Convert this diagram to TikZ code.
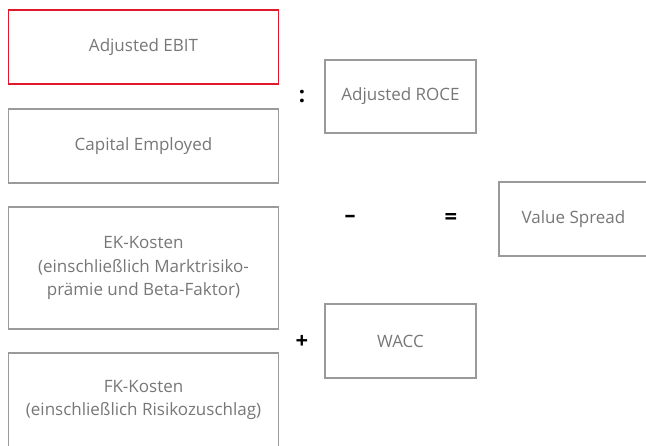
\documentclass[tikz,border=0pt]{standalone}
\usepackage{fontspec}
\setmainfont{Open Sans}
\definecolor{boxgray}{HTML}{9A9A9A}
\definecolor{txtgray}{HTML}{777777}
\definecolor{boxred}{HTML}{E3182D}
\begin{document}
\begin{tikzpicture}[x=1pt,y=-1pt,
  bx/.style={draw=boxgray,line width=1.3pt,rectangle,inner sep=0pt,
    text=txtgray,font=\fontsize{17}{23.5}\selectfont,align=center},
  redbx/.style={bx,draw=boxred},
  op/.style={inner sep=0pt,text=black,font=\fontsize{22}{22}\selectfont\bfseries}]
\useasboundingbox (0,0) rectangle (646,446);
\node[redbx,minimum width=270pt,minimum height=74pt] (ebit) at (143.5,47) {Adjusted EBIT};
\node[bx,minimum width=270pt,minimum height=74pt] (ce) at (143.5,146) {Capital Employed};
\node[bx,minimum width=270pt,minimum height=122pt] (ek) at (143.5,268) {EK-Kosten\\(einschließlich Marktrisiko-\\prämie und Beta-Faktor)};
\node[bx,minimum width=270pt,minimum height=94pt] (fk) at (143.5,400) {FK-Kosten\\(einschließlich Risikozuschlag)};
\node[bx,minimum width=151pt,minimum height=73pt] (roce) at (400.5,96.5) {Adjusted ROCE};
\node[bx,minimum width=149pt,minimum height=74pt] (vs) at (573.5,219) {Value Spread};
\node[bx,minimum width=151pt,minimum height=74pt] (wacc) at (400.5,341) {WACC};
\node[op] (colon) at (302,97) {:};
\node[op] (minus) at (350,219) {–};
\node[op] (equals) at (451,219) {=};
\node[op] (plus) at (302,342) {+};
\end{tikzpicture}
\end{document}
